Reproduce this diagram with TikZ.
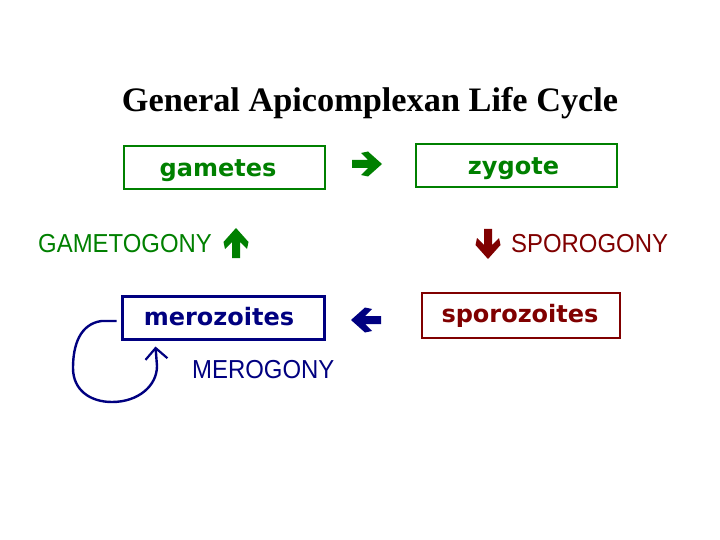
\documentclass[tikz,border=0pt]{standalone}
\usepackage{fontspec}
\setmainfont{Liberation Serif}
\newfontfamily\boxfont{DejaVu Sans}
\newfontfamily\capfont[FakeStretch=0.92]{Liberation Sans}
\usetikzlibrary{arrows.meta,calc}
\definecolor{cgreen}{RGB}{0,128,0}
\definecolor{cred}{RGB}{128,0,0}
\definecolor{cnavy}{RGB}{0,0,128}
\tikzset{
  stagebox/.style={draw, line width=2pt, minimum width=201pt, minimum height=43pt, inner sep=0pt},
  stagetext/.style={anchor=base, inner sep=0pt, font=\boxfont\bfseries\fontsize{24}{24}\selectfont},
  phase/.style={anchor=base west, inner sep=0pt, font=\capfont\fontsize{26}{26}\selectfont},
  pics/fatarrow/.style={code={
    \fill (-15,-4) -- (1,-4) -- (-6,-11) -- (1,-12.5) -- (15,0) -- (1,12.5) -- (-6,11) -- (1,4) -- (-15,4) -- cycle;
  }},
  loopline/.style={line width=2.4pt, cnavy, -{Straight Barb[length=11pt,width=22pt,line width=2.2pt]}}
}
\begin{document}
\begin{tikzpicture}[x=1pt,y=-1pt]
\useasboundingbox (0,0) rectangle (720,540);
\fill[white] (0,0) rectangle (720,540);
\node[anchor=base, inner sep=0pt, font=\bfseries\fontsize{34.3}{34.3}\selectfont] (title) at (370,112) {General Apicomplexan Life Cycle};

\node[stagebox, cgreen] (gam) at (224,168) {};
\node[stagebox, cgreen] (zyg) at (516.5,165.5) {};
\node[stagebox, cnavy, line width=3pt, minimum width=202pt] (mero) at (223,317.5) {};
\node[stagebox, cred, minimum width=198pt, minimum height=45pt] (spor) at (521,315.5) {};

\node[stagetext, cgreen] (gamt) at (218,177) {gametes};
\node[stagetext, cgreen] (zygt) at (513.5,175) {zygote};
\node[stagetext, cnavy] (merot) at (219,325) {merozoites};
\node[stagetext, cred] (sport) at (520,322) {sporozoites};

\pic[cgreen] at (367,164) {fatarrow};
\pic[cnavy, rotate=180] at (366,320) {fatarrow};
\pic[cgreen, rotate=90] at (236,243) {fatarrow};
\pic[cred, rotate=-90] at (488,244) {fatarrow};

\node[phase, cgreen] (gtg) at (38,252) {GAMETOGONY};
\node[phase, cred] (spg) at (511,252) {SPOROGONY};
\node[phase, cnavy] (mrg) at (192,378) {MEROGONY};

\coordinate (loopstart) at ($(mero.west)+(-4,3.5)$);
\coordinate (loopend) at ($(mero.south west)+(35,6)$);
\draw[loopline] (loopstart) -- ++(-15,0) .. controls (80,324) and (73,345) .. (73,368)
  .. controls (73,390) and (90,402) .. (112,402)
  .. controls (138,402) and (157,386) .. (157,366) -- (loopend);
\end{tikzpicture}
\end{document}
